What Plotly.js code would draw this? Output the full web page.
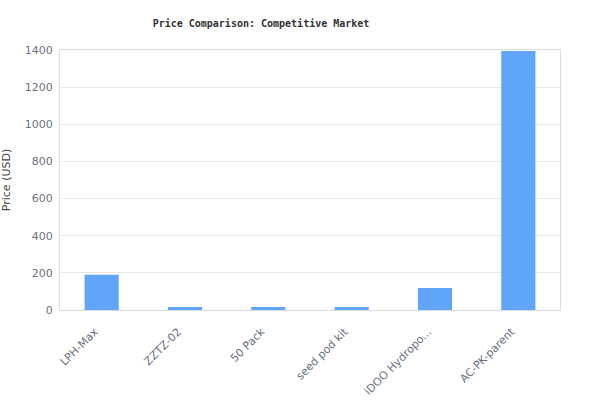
<!DOCTYPE html>
<html>
<head>
<meta charset="utf-8">
<script src="https://cdn.plot.ly/plotly-3.0.1.min.js"></script>
<style>
  html, body { margin: 0; padding: 0; background: #fff; }
  #chart { width: 600px; height: 420px; }
</style>
</head>
<body>
<div id="chart"></div>
<script>
// produits comparés et leur prix
const products = ["LPH-Max", "ZZTZ-02", "50 Pack", "seed pod kit", "iDOO Hydropo...", "AC-PK-parent"];
const prices = [190, 16, 16, 16, 119, 1395];

const yTicks = [0, 200, 400, 600, 800, 1000, 1200, 1400];

const trace = {
  type: 'bar',
  x: products,
  y: prices,
  marker: { color: '#60a5fa' },
  hoverinfo: 'x+y'
};

const tickFont = { family: 'DejaVu Sans, sans-serif', size: 11, color: '#6b7280' };

const layout = {
  width: 600,
  height: 420,
  paper_bgcolor: '#ffffff',
  plot_bgcolor: '#ffffff',
  showlegend: false,
  bargap: 0.59,
  margin: { t: 50, r: 40, b: 110, l: 60 },
  title: {
    text: 'Price Comparison: Competitive Market',
    font: { family: 'DejaVu Sans Mono, monospace', size: 10, color: '#333333', weight: 'bold' },
    x: 0.435,
    xanchor: 'center',
    y: 0.945,
    yanchor: 'middle'
  },
  xaxis: {
    type: 'category',
    tickangle: -45,
    tickfont: tickFont,
    ticklabelstandoff: 10,
    ticklabelshift: -7,
    showgrid: false,
    showline: true,
    linecolor: '#dddddd',
    linewidth: 1,
    mirror: true,
    ticks: ''
  },
  yaxis: {
    range: [0, 1400],
    tickvals: yTicks,
    tickfont: tickFont,
    ticklabelstandoff: 4,
    gridcolor: '#e8e8e8',
    zeroline: false,
    showline: true,
    linecolor: '#dddddd',
    linewidth: 1,
    mirror: true,
    ticks: '',
    title: {
      text: 'Price (USD)',
      font: { family: 'DejaVu Sans, sans-serif', size: 11, color: '#444444' },
      standoff: 12
    }
  }
};

Plotly.newPlot('chart', [trace], layout, { displayModeBar: false, staticPlot: true });
</script>
</body>
</html>
